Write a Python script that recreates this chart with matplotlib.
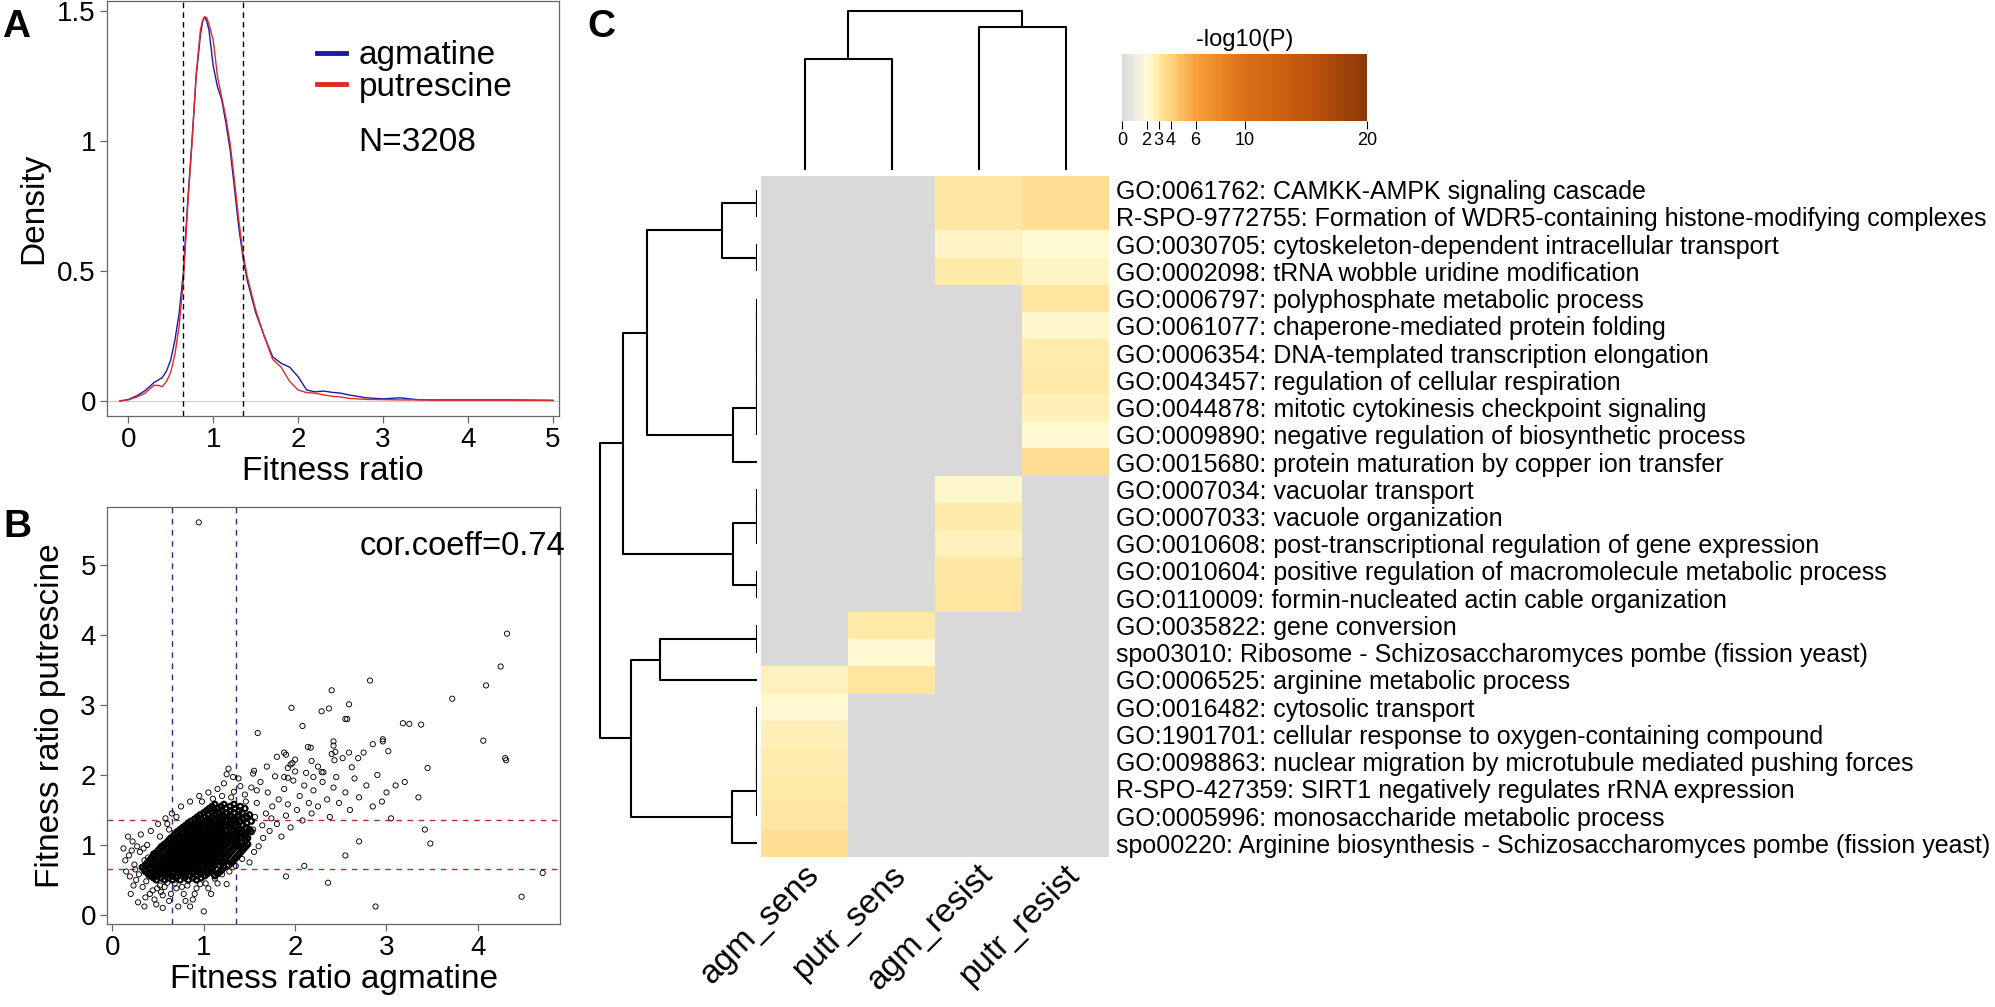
import numpy as np
import matplotlib
matplotlib.use("Agg")
import matplotlib.pyplot as plt
import matplotlib.transforms as mtransforms
from matplotlib.colors import LinearSegmentedColormap, Normalize
from matplotlib.cm import ScalarMappable

plt.rcParams['font.family'] = ['Liberation Sans', 'DejaVu Sans']

W, H = 1995, 1007

# ---------------- panel A: density of fitness ratios ----------------
dens_x = [-0.1, 0.0, 0.1, 0.2, 0.3, 0.35, 0.4, 0.45, 0.5, 0.55, 0.6, 0.65, 0.7, 0.75,
          0.8, 0.85, 0.875, 0.9, 0.925, 0.95, 1.0, 1.05, 1.1, 1.15, 1.2, 1.25, 1.3, 1.35,
          1.4, 1.5, 1.6, 1.7, 1.8, 1.9, 2.0, 2.1, 2.2, 2.3, 2.4, 2.5, 2.6, 2.8, 3.0,
          3.2, 3.4, 3.6, 4.0, 4.5, 5.0]
dens_agm = [0, 0.005, 0.02, 0.04, 0.07, 0.08, 0.09, 0.115, 0.158, 0.235, 0.34, 0.50, 0.77, 1.0,
            1.25, 1.41, 1.46, 1.48, 1.46, 1.43, 1.29, 1.21, 1.16, 1.07, 0.965, 0.82, 0.67, 0.555,
            0.465, 0.34, 0.25, 0.17, 0.145, 0.13, 0.093, 0.042, 0.035, 0.038, 0.033, 0.03, 0.023, 0.012, 0.008,
            0.012, 0.005, 0.004, 0.004, 0.004, 0.002]
dens_putr = [0, 0.004, 0.015, 0.03, 0.06, 0.06, 0.055, 0.075, 0.11, 0.18, 0.29, 0.47, 0.75, 0.99,
             1.26, 1.43, 1.465, 1.48, 1.475, 1.45, 1.39, 1.25, 1.17, 1.09, 0.99, 0.85, 0.70, 0.57,
             0.48, 0.35, 0.25, 0.16, 0.13, 0.075, 0.042, 0.032, 0.03, 0.023, 0.018, 0.015, 0.01, 0.006, 0.005,
             0.004, 0.004, 0.003, 0.003, 0.003, 0.002]
cutoffs = [0.65, 1.35]
n_genes = 3208
cor_coeff = 0.74

# ---------------- panel B: agmatine vs putrescine fitness ----------------
# scattered points that can be read one by one
spread_pts = [
    (0.945, 5.61), (4.32, 4.02), (4.25, 3.55), (4.09, 3.28), (3.72, 3.09), (4.06, 2.49), (4.31, 2.21),
    (4.30, 2.24), (4.71, 0.60), (4.48, 0.26), (2.82, 3.35), (2.40, 3.21), (2.59, 3.01), (1.96, 2.96),
    (2.37, 2.95), (2.29, 2.91), (2.55, 2.80), (2.57, 2.80), (3.18, 2.74), (3.25, 2.73), (3.38, 2.72),
    (2.08, 2.70), (1.59, 2.60), (2.96, 2.51), (2.96, 2.48), (2.42, 2.48), (2.85, 2.44), (2.42, 2.42),
    (2.14, 2.40), (2.17, 2.39), (3.02, 2.34), (2.44, 2.33), (1.88, 2.32), (2.59, 2.32), (2.75, 2.32),
    (2.40, 2.30), (1.90, 2.29), (1.80, 2.26), (2.69, 2.24), (2.52, 2.24), (2.00, 2.22), (2.43, 2.21),
    (2.18, 2.20), (1.97, 2.17), (1.95, 2.15), (2.25, 2.12), (1.69, 2.12), (2.62, 2.11), (3.45, 2.10),
    (1.92, 2.10), (1.27, 2.09), (1.55, 2.06), (2.00, 2.05), (2.29, 2.04), (2.31, 2.04), (2.12, 2.03),
    (1.54, 2.02), (1.25, 2.01), (1.32, 1.97), (2.20, 1.97), (2.45, 1.97), (1.88, 1.97), (1.92, 1.96),
    (2.88, 0.12), (3.05, 1.38), (3.42, 1.22), (3.48, 1.02), (3.10, 1.85), (3.35, 1.68), (2.95, 1.62),
    (2.36, 0.46), (2.10, 0.70), (1.90, 0.55), (1.00, 0.05), (0.85, 0.12), (2.70, 1.05), (2.55, 0.85),
    (0.12, 0.95), (0.15, 0.62), (0.18, 0.85), (0.20, 0.30), (0.22, 1.05), (0.24, 0.72), (0.26, 0.50),
    (0.28, 0.18), (0.30, 0.90), (0.31, 1.15), (0.33, 0.40), (0.35, 0.78), (0.36, 0.25), (0.38, 1.00),
    (0.40, 0.55), (0.42, 1.20), (0.44, 0.35), (0.45, 0.88), (0.48, 0.15), (0.50, 1.30), (0.52, 0.42),
    (0.55, 0.28), (0.58, 1.38), (0.60, 0.46), (0.62, 0.20), (0.65, 1.45), (0.70, 0.38), (0.72, 0.12),
    (0.75, 1.55), (0.78, 0.30), (0.82, 0.42), (0.85, 1.62), (0.88, 0.22), (0.92, 0.38), (0.95, 1.70),
    (1.02, 0.45), (1.05, 1.75), (1.08, 0.30), (1.12, 0.52), (1.15, 1.80), (1.20, 0.58), (1.22, 1.88),
    (1.25, 0.44), (1.28, 0.62), (1.30, 1.68), (1.35, 0.70), (1.38, 1.95), (1.42, 0.80), (1.45, 1.72),
    (1.50, 0.75), (1.52, 1.82), (1.55, 0.90), (1.58, 1.60), (1.60, 0.98), (1.62, 1.90), (1.65, 1.10),
    (1.68, 1.45), (1.70, 1.75), (1.72, 1.20), (1.75, 1.55), (1.78, 1.98), (1.80, 1.30), (1.82, 1.65),
    (1.85, 1.12), (1.88, 1.80), (1.90, 1.42), (1.92, 1.58), (1.95, 1.25), (1.98, 1.92), (2.02, 1.50),
    (2.05, 1.70), (2.08, 1.35), (2.10, 1.85), (2.15, 1.60), (2.18, 1.45), (2.20, 1.78), (2.25, 1.55),
    (2.30, 1.90), (2.35, 1.65), (2.38, 1.40), (2.42, 1.82), (2.48, 1.60), (2.55, 1.75), (2.60, 1.50),
    (2.65, 1.95), (2.70, 1.68), (2.78, 1.85), (2.85, 1.55), (2.90, 2.00), (3.00, 1.75), (3.20, 1.90),
    (1.46, 1.62), (1.56, 1.40), (1.64, 1.28), (1.74, 1.38), (1.54, 1.22), (1.47, 1.08), (1.58, 1.78),
    (1.40, 1.84), (1.33, 1.76), (1.20, 1.70), (1.10, 1.66), (0.98, 1.62), (0.70, 1.40), (0.60, 1.30),
    (0.14, 0.78), (0.17, 1.12), (0.19, 0.55), (0.21, 0.92), (0.23, 0.42), (0.25, 0.65), (0.27, 0.98),
    (0.29, 0.58), (0.32, 0.68), (0.34, 0.95), (0.37, 0.48), (0.39, 0.82), (0.41, 0.30), (0.43, 0.62),
    (0.46, 0.22), (0.49, 0.38), (0.53, 0.33), (0.57, 0.40), (0.64, 0.30), (0.68, 0.45), (0.76, 0.40),
    (0.80, 0.20), (0.90, 0.30), (0.96, 0.44), (1.05, 0.38), (1.15, 0.45), (0.35, 0.12), (0.55, 0.10),
    (0.62, 1.22), (0.52, 1.12),
]
# dense core of the cloud, one list of agmatine values per putrescine level
core_rows = {
    0.50: [0.48, 0.57, 0.66, 0.74, 0.83, 0.92],
    0.53: [0.45, 0.53, 0.61, 0.70, 0.79, 0.88, 0.97],
    0.56: [0.42, 0.50, 0.58, 0.64, 0.71, 0.77, 0.85, 0.93, 1.01, 1.12],
    0.59: [0.39, 0.47, 0.54, 0.61, 0.67, 0.74, 0.80, 0.88, 0.96, 1.04, 1.15],
    0.62: [0.36, 0.44, 0.52, 0.57, 0.62, 0.67, 0.72, 0.77, 0.82, 0.88, 0.94, 1.00, 1.07, 1.18],
    0.65: [0.35, 0.42, 0.50, 0.55, 0.60, 0.65, 0.70, 0.75, 0.80, 0.86, 0.91, 0.97, 1.03, 1.09, 1.20],
    0.68: [0.33, 0.41, 0.48, 0.54, 0.59, 0.64, 0.69, 0.74, 0.79, 0.84, 0.89, 0.94, 0.99, 1.04, 1.10, 1.22],
    0.71: [0.36, 0.44, 0.50, 0.55, 0.60, 0.65, 0.70, 0.75, 0.80, 0.85, 0.90, 0.95, 1.00, 1.05, 1.11, 1.17, 1.27],
    0.74: [0.38, 0.46, 0.52, 0.57, 0.62, 0.67, 0.72, 0.77, 0.82, 0.87, 0.92, 0.97, 1.02, 1.07, 1.13, 1.20, 1.30],
    0.77: [0.40, 0.48, 0.54, 0.59, 0.64, 0.69, 0.74, 0.79, 0.84, 0.89, 0.94, 0.99, 1.04, 1.09, 1.15, 1.22, 1.32],
    0.80: [0.42, 0.50, 0.56, 0.61, 0.66, 0.71, 0.76, 0.81, 0.86, 0.91, 0.96, 1.01, 1.06, 1.11, 1.17, 1.24, 1.34],
    0.83: [0.44, 0.51, 0.57, 0.62, 0.67, 0.72, 0.77, 0.82, 0.87, 0.92, 0.97, 1.02, 1.07, 1.12, 1.18, 1.25, 1.36],
    0.86: [0.45, 0.53, 0.59, 0.64, 0.69, 0.74, 0.79, 0.84, 0.89, 0.94, 0.99, 1.04, 1.09, 1.14, 1.20, 1.27, 1.38],
    0.89: [0.48, 0.55, 0.61, 0.66, 0.71, 0.76, 0.81, 0.86, 0.91, 0.96, 1.01, 1.06, 1.11, 1.16, 1.22, 1.29, 1.40],
    0.92: [0.50, 0.57, 0.63, 0.68, 0.73, 0.78, 0.83, 0.88, 0.93, 0.98, 1.03, 1.08, 1.13, 1.18, 1.24, 1.31, 1.42],
    0.95: [0.52, 0.59, 0.65, 0.70, 0.75, 0.80, 0.85, 0.90, 0.95, 1.00, 1.05, 1.10, 1.15, 1.20, 1.26, 1.33, 1.44],
    0.98: [0.54, 0.61, 0.67, 0.72, 0.77, 0.82, 0.87, 0.92, 0.97, 1.02, 1.07, 1.12, 1.17, 1.22, 1.28, 1.36, 1.46],
    1.01: [0.57, 0.63, 0.69, 0.74, 0.79, 0.84, 0.89, 0.94, 0.99, 1.04, 1.09, 1.14, 1.19, 1.24, 1.30, 1.38, 1.48],
    1.04: [0.60, 0.66, 0.71, 0.76, 0.81, 0.86, 0.91, 0.96, 1.01, 1.06, 1.11, 1.16, 1.21, 1.27, 1.33, 1.41],
    1.07: [0.62, 0.68, 0.73, 0.78, 0.83, 0.88, 0.93, 0.98, 1.03, 1.08, 1.13, 1.18, 1.23, 1.29, 1.36, 1.45],
    1.10: [0.64, 0.70, 0.76, 0.81, 0.86, 0.91, 0.96, 1.01, 1.06, 1.11, 1.16, 1.21, 1.26, 1.32, 1.39, 1.48],
    1.13: [0.67, 0.73, 0.79, 0.84, 0.89, 0.94, 0.99, 1.04, 1.09, 1.14, 1.19, 1.24, 1.30, 1.37, 1.46],
    1.16: [0.69, 0.76, 0.82, 0.87, 0.92, 0.97, 1.02, 1.07, 1.12, 1.17, 1.22, 1.28, 1.35, 1.44],
    1.19: [0.71, 0.78, 0.84, 0.90, 0.95, 1.00, 1.05, 1.10, 1.15, 1.20, 1.25, 1.32, 1.41, 1.52],
    1.22: [0.74, 0.81, 0.87, 0.93, 0.98, 1.03, 1.08, 1.13, 1.18, 1.24, 1.30, 1.38, 1.50],
    1.25: [0.77, 0.84, 0.90, 0.96, 1.01, 1.06, 1.11, 1.16, 1.22, 1.28, 1.35, 1.46],
    1.28: [0.80, 0.87, 0.94, 1.00, 1.05, 1.10, 1.15, 1.21, 1.27, 1.34, 1.43],
    1.31: [0.83, 0.90, 0.97, 1.03, 1.09, 1.15, 1.21, 1.28, 1.36, 1.47],
    1.34: [0.86, 0.94, 1.01, 1.07, 1.13, 1.19, 1.25, 1.32, 1.40, 1.52],
    1.37: [0.90, 0.97, 1.05, 1.12, 1.18, 1.25, 1.33, 1.43],
    1.40: [0.93, 1.01, 1.09, 1.16, 1.23, 1.30, 1.38, 1.47],
    1.43: [0.96, 1.05, 1.13, 1.21, 1.29, 1.38, 1.50],
    1.46: [1.00, 1.09, 1.17, 1.25, 1.33, 1.42],
    1.49: [1.03, 1.12, 1.20, 1.29, 1.39],
    1.52: [1.06, 1.15, 1.24, 1.34, 1.45],
    1.55: [1.09, 1.19, 1.29, 1.40],
    1.58: [1.12, 1.22, 1.33],
}

# ---------------- panel C: enrichment heatmap ----------------
terms = [
    "GO:0061762: CAMKK-AMPK signaling cascade",
    "R-SPO-9772755: Formation of WDR5-containing histone-modifying complexes",
    "GO:0030705: cytoskeleton-dependent intracellular transport",
    "GO:0002098: tRNA wobble uridine modification",
    "GO:0006797: polyphosphate metabolic process",
    "GO:0061077: chaperone-mediated protein folding",
    "GO:0006354: DNA-templated transcription elongation",
    "GO:0043457: regulation of cellular respiration",
    "GO:0044878: mitotic cytokinesis checkpoint signaling",
    "GO:0009890: negative regulation of biosynthetic process",
    "GO:0015680: protein maturation by copper ion transfer",
    "GO:0007034: vacuolar transport",
    "GO:0007033: vacuole organization",
    "GO:0010608: post-transcriptional regulation of gene expression",
    "GO:0010604: positive regulation of macromolecule metabolic process",
    "GO:0110009: formin-nucleated actin cable organization",
    "GO:0035822: gene conversion",
    "spo03010: Ribosome - Schizosaccharomyces pombe (fission yeast)",
    "GO:0006525: arginine metabolic process",
    "GO:0016482: cytosolic transport",
    "GO:1901701: cellular response to oxygen-containing compound",
    "GO:0098863: nuclear migration by microtubule mediated pushing forces",
    "R-SPO-427359: SIRT1 negatively regulates rRNA expression",
    "GO:0005996: monosaccharide metabolic process",
    "spo00220: Arginine biosynthesis - Schizosaccharomyces pombe (fission yeast)",
]
conditions = ["agm_sens", "putr_sens", "agm_resist", "putr_resist"]
# -log10(P) per term, 0 = not enriched
agm_sens = [0] * 18 + [2.55, 2.15, 2.65, 2.85, 3.0, 3.1, 3.45]
putr_sens = [0] * 16 + [3.0, 2.15, 3.15] + [0] * 6
agm_resist = [3.1, 3.1, 2.35, 2.9] + [0] * 7 + [2.2, 2.95, 2.55, 3.05, 3.2] + [0] * 9
putr_resist = [3.45, 3.45, 2.1, 2.4, 3.15, 2.2, 2.85, 2.95, 2.6, 2.15, 3.45] + [0] * 14

# row tree: (child a, child b, height), children >= 25 refer to earlier merges
row_merges = [
    (0, 1, 0), (2, 3, 0), (25, 26, 0.35),
    (4, 5, 0), (28, 6, 0), (29, 7, 0), (30, 8, 0), (31, 9, 0), (32, 10, 0.24),
    (27, 33, 1.10),
    (11, 12, 0), (35, 13, 0), (14, 15, 0), (36, 37, 0.24),
    (34, 38, 1.34),
    (16, 17, 0), (40, 18, 0.97),
    (19, 20, 0), (42, 21, 0), (43, 22, 0), (44, 23, 0), (45, 24, 0.25),
    (41, 46, 1.26),
    (39, 47, 1.57),
]
col_merges = [(0, 1, 1.11), (2, 3, 1.43), (4, 5, 1.59)]

cbar_ticks = [0, 2, 3, 4, 6, 10, 20]
cmap_stops = [(0.0, '#d9d9d9'), (0.06, '#eeeee4'), (0.1, '#fffbd6'), (0.15, '#ffe9a6'),
              (0.2, '#fdd27c'), (0.3, '#f8a03a'), (0.5, '#dd6f16'), (0.75, '#c0560d'),
              (1.0, '#8c380a')]


def px_axes(fig, x0, y0, x1, y1):
    return fig.add_axes([x0 / W, 1 - y1 / H, (x1 - x0) / W, (y1 - y0) / H])


def dendro_segments(merges, n_leaves):
    pos = {i: i + 0.5 for i in range(n_leaves)}
    hgt = {i: 0.0 for i in range(n_leaves)}
    segs = []
    for k, (a, b, h) in enumerate(merges):
        segs.append(([hgt[a], h, h, hgt[b]], [pos[a], pos[a], pos[b], pos[b]]))
        pos[n_leaves + k] = (pos[a] + pos[b]) / 2
        hgt[n_leaves + k] = h
    return segs


def r_style(ax):
    for sp in ax.spines.values():
        sp.set_color('#666666')
        sp.set_linewidth(0.9)
    ax.tick_params(direction='out', length=5, width=0.9, color='#666666',
                   labelsize=20, pad=3)


fig = plt.figure(figsize=(W / 100, H / 100), dpi=100)

# ---- A
axA = px_axes(fig, 107, 1, 559, 416)
r_style(axA)
axA.axhline(0, color='#cccccc', lw=0.8)
axA.plot(dens_x, dens_agm, color='#1a1aa6', lw=1.0, label='agmatine')
axA.plot(dens_x, dens_putr, color='#e02a2a', lw=1.0, label='putrescine')
for c in cutoffs:
    axA.axvline(c, color='black', lw=1.0, ls=(0, (4, 3)))
axA.set_xlim(-0.25, 5.07)
axA.set_ylim(-0.058, 1.54)
axA.set_xticks([0, 1, 2, 3, 4, 5])
axA.set_yticks([0, 0.5, 1, 1.5])
axA.set_yticklabels(['0', '0.5', '1', '1.5'])
axA.set_xlabel('Fitness ratio', fontsize=24, labelpad=2)
axA.set_ylabel('Density', fontsize=24, labelpad=6)
leg = axA.legend(loc='upper left', bbox_to_anchor=(0.465, 0.905), frameon=False,
                 fontsize=24, handlelength=0.85, handletextpad=0.4, labelspacing=0.02,
                 borderpad=0, borderaxespad=0)
for line in leg.get_lines():
    line.set_linewidth(3.5)
axA.text(0.556, 0.66, f'N={n_genes}', transform=axA.transAxes, fontsize=24,
         ha='left', va='center')

# ---- B
axB = px_axes(fig, 107, 507, 560, 924)
r_style(axB)
core_x = [x for yv, xs in core_rows.items() for x in xs]
core_y = [yv for yv, xs in core_rows.items() for x in xs]
for c in cutoffs:
    axB.axvline(c, color='#2b2b80', lw=1.0, ls=(0, (4, 4)))
    axB.axhline(c, color='#b03030', lw=1.0, ls=(0, (4, 4)))
axB.scatter([p[0] for p in spread_pts], [p[1] for p in spread_pts], s=14,
            facecolors='none', edgecolors='black', linewidths=0.65, zorder=3)
axB.scatter(core_x, core_y, s=14, facecolors='none', edgecolors='black',
            linewidths=1.6, zorder=3)
axB.set_xlim(-0.06, 4.9)
axB.set_ylim(-0.13, 5.83)
axB.set_xticks([0, 1, 2, 3, 4])
axB.set_yticks([0, 1, 2, 3, 4, 5])
axB.set_xlabel('Fitness ratio agmatine', fontsize=24, labelpad=2)
axB.set_ylabel('Fitness ratio putrescine', fontsize=24, labelpad=10)
axB.text(1.012, 0.905, f'cor.coeff={cor_coeff}', transform=axB.transAxes, fontsize=23.5,
         ha='right', va='center')

# ---- C heatmap
values = np.array([agm_sens, putr_sens, agm_resist, putr_resist]).T
cmap = LinearSegmentedColormap.from_list('logp', cmap_stops)
norm = Normalize(0, 20)

axH = px_axes(fig, 761, 176, 1109, 857)
axH.imshow(values, cmap=cmap, norm=norm, aspect='auto', interpolation='nearest',
           extent=(0, 4, 25, 0))
axH.set_xlim(0, 4)
axH.set_ylim(25, 0)
for sp in axH.spines.values():
    sp.set_visible(False)
axH.yaxis.tick_right()
axH.set_yticks(np.arange(25) + 0.5)
axH.set_yticklabels(terms, fontsize=18)
axH.set_xticks(np.arange(4) + 0.5)
axH.set_xticklabels(conditions, fontsize=24, rotation=45, ha='right', va='center',
                    rotation_mode='anchor')
axH.tick_params(length=0, pad=5)
offset = mtransforms.ScaledTranslation(10 / 100, -6 / 100, fig.dpi_scale_trans)
for lab in axH.get_xticklabels():
    lab.set_transform(lab.get_transform() + offset)

# row dendrogram
axR = px_axes(fig, 590, 176, 757, 857)
for hx, py in dendro_segments(row_merges, len(terms)):
    axR.plot(hx, py, color='black', lw=1.5, solid_capstyle='butt')
axR.set_xlim(1.67, 0)
axR.set_ylim(25, 0)
axR.axis('off')

# column dendrogram
axT = px_axes(fig, 761, 0, 1109, 170)
for hy, px in dendro_segments(col_merges, len(conditions)):
    axT.plot(px, hy, color='black', lw=1.5, solid_capstyle='butt')
axT.set_xlim(0, 4)
axT.set_ylim(0, 1.70)
axT.axis('off')

# colour key
axC = px_axes(fig, 1122, 54, 1367, 121)
cb = fig.colorbar(ScalarMappable(norm=norm, cmap=cmap), cax=axC, orientation='horizontal',
                  ticks=cbar_ticks)
cb.outline.set_linewidth(0)
axC.tick_params(labelsize=13, length=6, width=0.8, pad=2)
axC.set_title('-log10(P)', fontsize=17, pad=6)

# panel letters
for letter, (x, y) in zip('ABC', [(2, 37), (3, 537), (587, 37)]):
    fig.text(x / W, 1 - y / H, letter, fontsize=28, fontweight='bold', ha='left', va='baseline')

fig.savefig('out.png', dpi=100)
